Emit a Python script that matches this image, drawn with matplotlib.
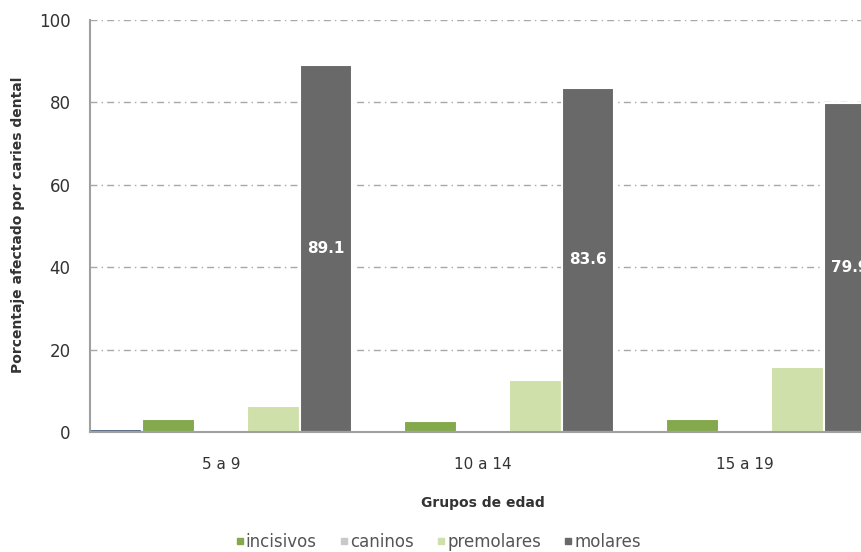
import numpy as np
import matplotlib.pyplot as plt
from matplotlib.lines import Line2D

groups = ["5 a 9", "10 a 14", "15 a 19"]
otros = [0.7, 0.0, 0.0]
incisivos = [3.2, 2.7, 3.1]
caninos = [0.3, 0.3, 0.3]
premolares = [6.3, 12.7, 15.7]
molares = [89.1, 83.6, 79.9]

series = [
    (otros, "#4f6282", None),
    (incisivos, "#84a84c", "incisivos"),
    (caninos, "#c9c9c9", "caninos"),
    (premolares, "#cfe0aa", "premolares"),
    (molares, "#696969", "molares"),
]


def main():
    fig = plt.figure(figsize=(8.61, 5.52), dpi=100)
    # axes runs past the right edge of the figure, so the last bar gets clipped
    ax = fig.add_axes([90 / 861, 1 - 432 / 552, 786 / 861, 412 / 552])

    x = np.arange(len(groups))
    width = 0.2
    for k, (vals, color, label) in enumerate(series):
        pos = x - 0.5 + width * (k + 0.5)
        bars = ax.bar(pos, vals, width, color=color, edgecolor="white", linewidth=1.5)
        if label == "molares":
            for b, v in zip(bars, vals):
                ax.text(b.get_x() + b.get_width() / 2, v / 2, f"{v:.1f}",
                        ha="center", va="center", color="white",
                        fontsize=11, fontweight="bold")

    ax.set_xlim(-0.5, 2.5)
    ax.set_ylim(0, 100)
    ax.set_yticks([0, 20, 40, 60, 80, 100])
    ax.set_xticks(x)
    ax.set_xticklabels(groups)
    ax.tick_params(axis="both", colors="#333333", length=0)
    ax.tick_params(axis="y", labelsize=12, pad=14)
    ax.tick_params(axis="x", labelsize=11, pad=18)
    ax.yaxis.grid(True, linestyle=(0, (5, 3, 1, 3)), color="#a8a8a8", linewidth=1)
    ax.set_axisbelow(True)
    for side in ["top", "right"]:
        ax.spines[side].set_visible(False)
    ax.spines["left"].set_color("#a0a0a0")
    ax.spines["bottom"].set_color("#a0a0a0")
    ax.spines["left"].set_linewidth(1.5)
    ax.spines["bottom"].set_linewidth(1.5)

    ax.set_xlabel("Grupos de edad", fontsize=10, fontweight="bold", color="#333333", labelpad=17)
    fig.text(0.021, 1 - 225 / 552, "Porcentaje afectado por caries dental", rotation=90,
             ha="center", va="center", fontsize=10, fontweight="bold", color="#333333")

    handles = [Line2D([], [], marker="s", linestyle="none", markersize=4, color=c)
               for _, c, lab in series if lab]
    labels = [lab for _, _, lab in series if lab]
    fig.legend(handles, labels, loc="center", bbox_to_anchor=(0.508, 1 - 542 / 552),
               ncol=4, frameon=False, fontsize=12, handletextpad=0.0, handlelength=0.7,
               columnspacing=1.3, labelcolor="#555555")

    fig.savefig("out.png", dpi=100)


if __name__ == "__main__":
    main()
